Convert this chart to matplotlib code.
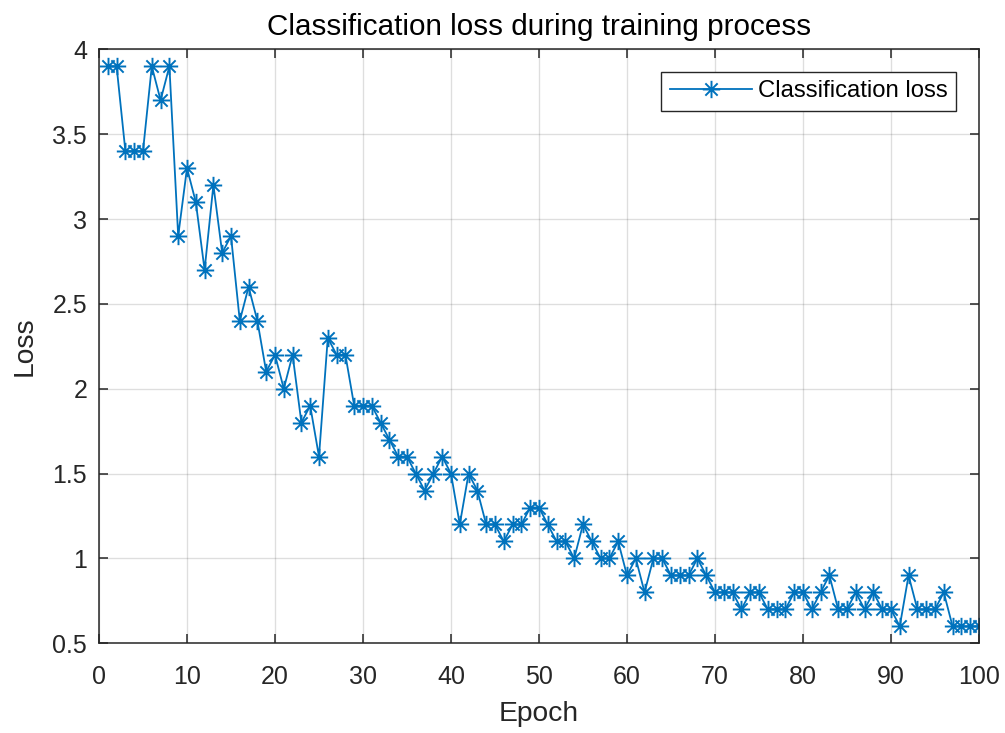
import numpy as np
import matplotlib
matplotlib.use("Agg")
import matplotlib.pyplot as plt
from matplotlib.path import Path

plt.rcParams['font.family'] = ['Liberation Sans', 'DejaVu Sans']

# loss recorded at the end of each epoch
epochs = list(range(1, 101))
loss = [3.9, 3.9, 3.4, 3.4, 3.4, 3.9, 3.7, 3.9, 2.9, 3.3,
        3.1, 2.7, 3.2, 2.8, 2.9, 2.4, 2.6, 2.4, 2.1, 2.2,
        2.0, 2.2, 1.8, 1.9, 1.6, 2.3, 2.2, 2.2, 1.9, 1.9,
        1.9, 1.8, 1.7, 1.6, 1.6, 1.5, 1.4, 1.5, 1.6, 1.5,
        1.2, 1.5, 1.4, 1.2, 1.2, 1.1, 1.2, 1.2, 1.3, 1.3,
        1.2, 1.1, 1.1, 1.0, 1.2, 1.1, 1.0, 1.0, 1.1, 0.9,
        1.0, 0.8, 1.0, 1.0, 0.9, 0.9, 0.9, 1.0, 0.9, 0.8,
        0.8, 0.8, 0.7, 0.8, 0.8, 0.7, 0.7, 0.7, 0.8, 0.8,
        0.7, 0.8, 0.9, 0.7, 0.7, 0.8, 0.7, 0.8, 0.7, 0.7,
        0.6, 0.9, 0.7, 0.7, 0.7, 0.8, 0.6, 0.6, 0.6, 0.6]

x_ticks = list(range(0, 101, 10))
y_ticks = [0.5, 1, 1.5, 2, 2.5, 3, 3.5, 4]
y_tick_labels = ['0.5', '1', '1.5', '2', '2.5', '3', '3.5', '4']

line_color = '#0072BD'
ink = '#262626'

# asterisk marker: a plus and a cross sharing one centre
d = 0.5 / np.sqrt(2)
verts = [(-0.5, 0), (0.5, 0), (0, -0.5), (0, 0.5),
         (-d, -d), (d, d), (-d, d), (d, -d)]
codes = [Path.MOVETO, Path.LINETO] * 4
asterisk = Path(verts, codes)

fig = plt.figure(figsize=(10.05, 7.33), dpi=100)
ax = fig.add_axes([0.0985, 0.1224, 0.8756, 0.8103])

ax.plot(epochs, loss, color=line_color, linewidth=1.3, marker=asterisk,
        markersize=12.5, markeredgewidth=1.4, label='Classification loss')

ax.set_xlim(0, 100)
ax.set_ylim(0.5, 4)
ax.set_xticks(x_ticks)
ax.set_yticks(y_ticks)
ax.set_yticklabels(y_tick_labels)

ax.grid(True, color=ink, alpha=0.15, linewidth=1.0)
ax.set_axisbelow(True)
for s in ax.spines.values():
    s.set_color(ink)
    s.set_linewidth(1.1)
ax.tick_params(direction='in', length=6.5, width=1.1, colors=ink,
               labelsize=18, top=True, right=True)
ax.tick_params(axis='x', pad=15.5)
ax.tick_params(axis='y', pad=8.5)

ax.set_title('Classification loss during training process', fontsize=21.3,
             color='black', pad=10.5)
ax.set_xlabel('Epoch', fontsize=20.3, color=ink, labelpad=8.5)
ax.set_ylabel('Loss', fontsize=20.3, color=ink, labelpad=10.5)

leg = ax.legend(loc='upper right', fontsize=17.2, fancybox=False,
                framealpha=1, handlelength=3.45, handletextpad=0.25,
                borderpad=0.35, borderaxespad=0.95)
leg.get_frame().set_edgecolor(ink)
leg.get_frame().set_linewidth(1.0)

fig.savefig('out.png', dpi=100)
